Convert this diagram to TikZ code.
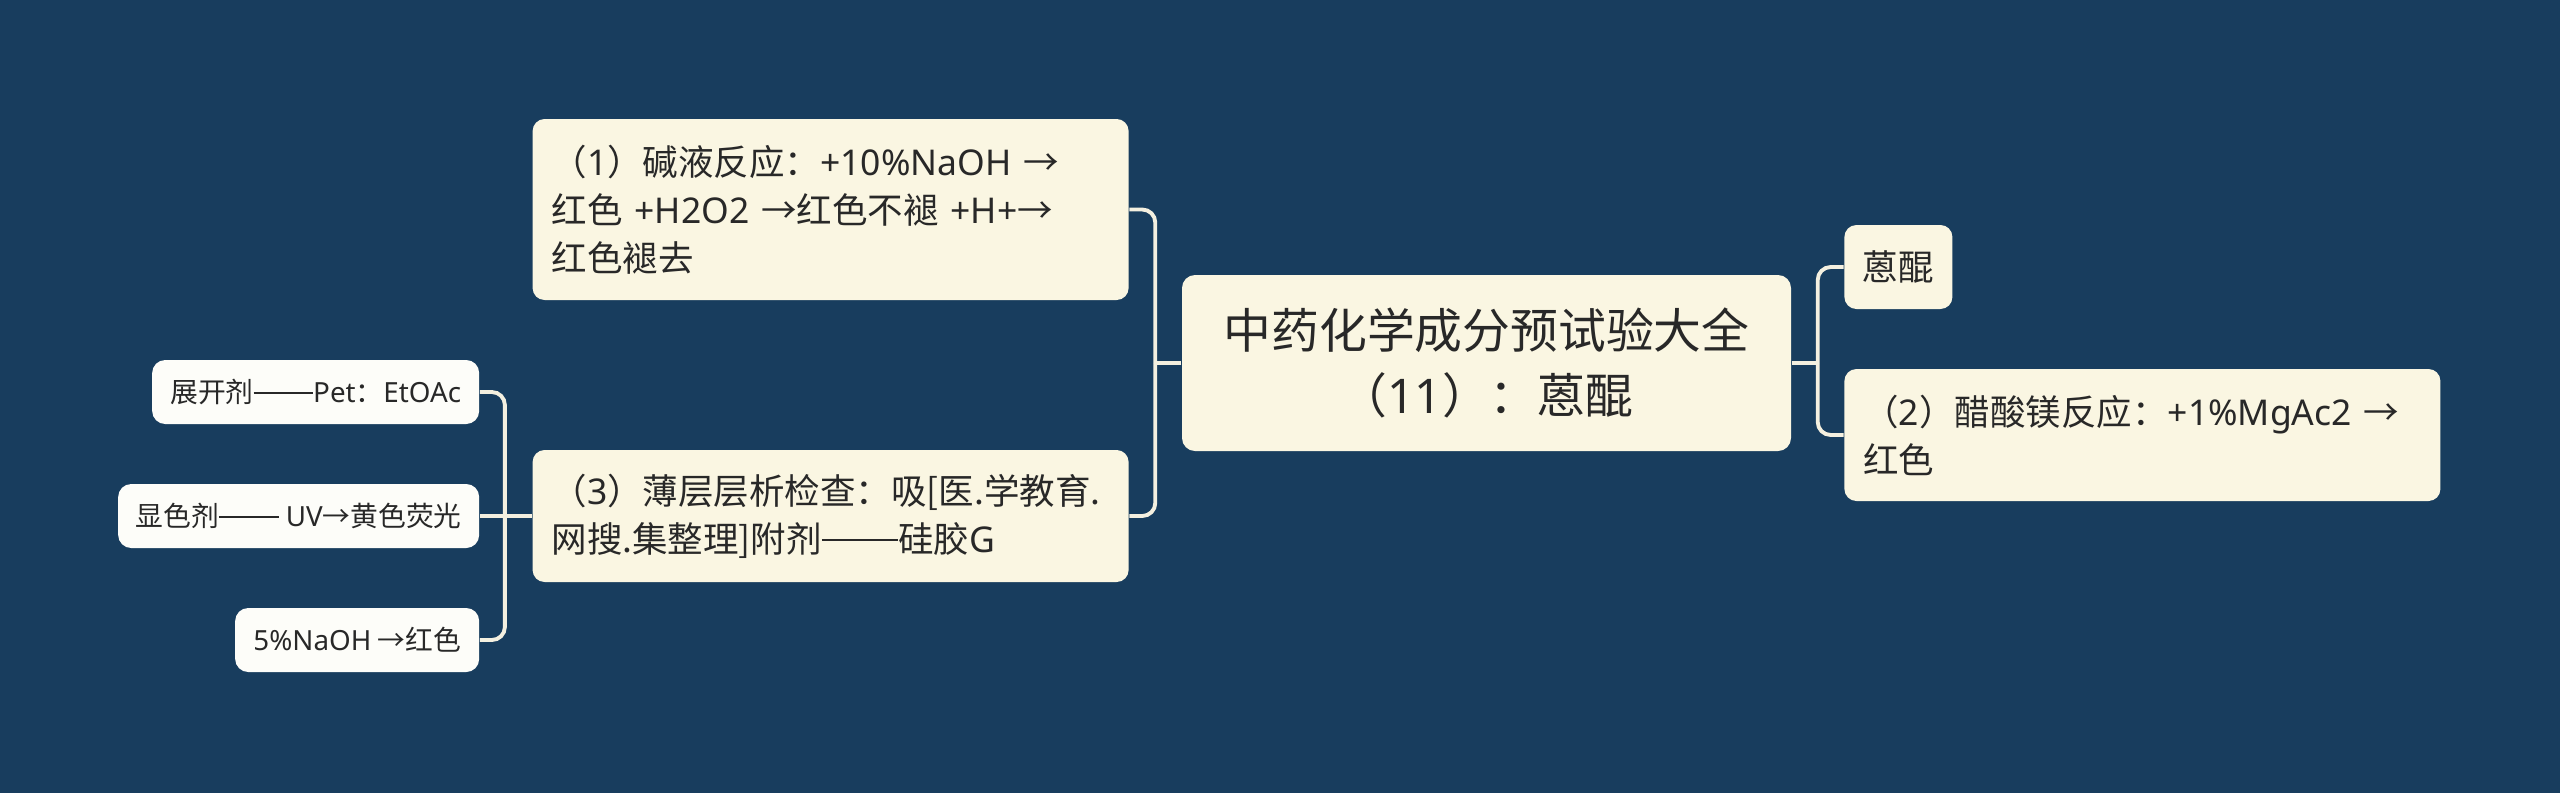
\documentclass[tikz,border=0pt]{standalone}
\usepackage{fontspec}
\setmainfont{Noto Sans CJK SC}
\newfontfamily\latn{Noto Sans}
\newcommand\twodash{\rule[0.32em]{2.15em}{0.06em}}
\usetikzlibrary{positioning}
\definecolor{bgblue}{RGB}{24,61,94}
\definecolor{cream}{RGB}{250,246,226}
\definecolor{paper}{RGB}{253,253,249}
\definecolor{ink}{RGB}{40,40,40}
\definecolor{wire}{RGB}{244,240,224}

\begin{document}
\begin{tikzpicture}[
  node distance=0.52cm,
  card/.style={rectangle, rounded corners=0.12cm, fill=cream, text=ink, font=\fontsize{10.1pt}{13.7pt}\selectfont},
  root/.style={card, rounded corners=0.13cm, minimum width=6.09cm, minimum height=1.76cm, align=center, font=\fontsize{13.6pt}{18.5pt}\selectfont},
  topic/.style={card, inner xsep=0.19cm, text width=5.58cm, align=left},
  leaf/.style={card, rounded corners=0.13cm, fill=paper, minimum height=0.64cm, align=center, font=\fontsize{7.9pt}{10pt}\selectfont},
  link/.style={draw=wire, line width=1.1pt, rounded corners=0.13cm}
]
\fill[bgblue] (0,0) rectangle (25.6,-7.93);

\node[root] (central) at (14.865,-3.63) {中药化学成分预试验大全\\（{\latn 11}）：蒽醌};
\node[topic, minimum height=1.81cm, left=of central, yshift=1.535cm] (alkali) {（{\latn 1}）碱液反应：{\latn +10\%NaOH} →\\红色 {\latn +H2O2} →红色不褪 {\latn +H+}→\\红色褪去};
\node[topic, minimum height=1.32cm, left=of central, yshift=-1.53cm] (tlc) {（{\latn 3}）薄层层析检查：吸[医.学教育.\\网搜.集整理]附剂\twodash 硅胶{\latn G}};
\node[card, minimum width=1.08cm, minimum height=0.84cm, right=of central, yshift=0.96cm] (anthra) {蒽醌};
\node[topic, minimum height=1.32cm, right=of central, yshift=-0.72cm] (magnesium) {（{\latn 2}）醋酸镁反应：{\latn +1\%MgAc2} →\\红色};
\node[leaf, minimum width=3.27cm, left=of tlc, yshift=1.24cm] (solvent) {展开剂\twodash{\latn Pet}：{\latn EtOAc}};
\node[leaf, minimum width=3.61cm, left=of tlc] (reagent) {显色剂\twodash{\latn\ UV}→黄色荧光};
\node[leaf, minimum width=2.44cm, left=of tlc, yshift=-1.24cm] (naoh) {{\latn 5\%NaOH} →红色};

\draw[link] (central.west) -- ++(-0.26,0) coordinate (lhub);
\draw[link] (alkali.east) -| (lhub);
\draw[link] (tlc.east) -| (lhub);
\draw[link] (central.east) -- ++(0.26,0) coordinate (rhub);
\draw[link] (anthra.west) -| (rhub);
\draw[link] (magnesium.west) -| (rhub);
\draw[link] (tlc.west) -- ++(-0.27,0) coordinate (thub);
\draw[link] (solvent.east) -| (thub);
\draw[link] (reagent.east) -- (thub);
\draw[link] (naoh.east) -| (thub);
\end{tikzpicture}
\end{document}
